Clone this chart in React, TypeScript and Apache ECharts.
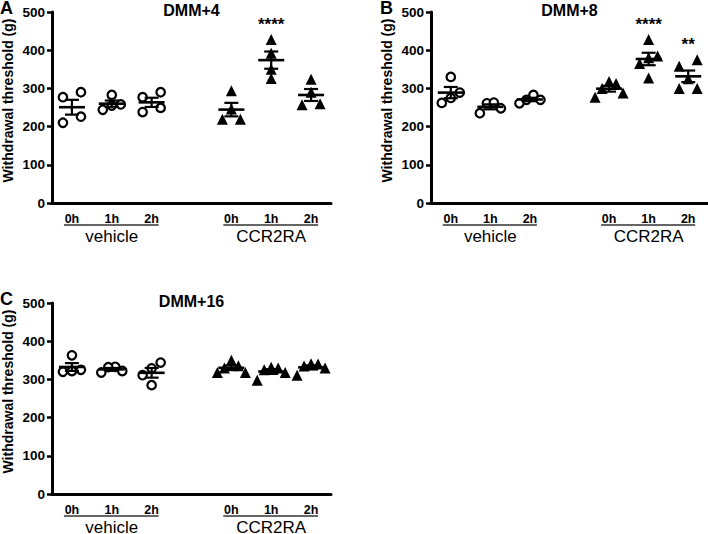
import React, { useEffect, useRef } from 'react';
import * as echarts from 'echarts';

// x categories (slot 3 is the gap between the two treatment groups)
const timeLabels = ['0h', '1h', '2h', '', '0h', '1h', '2h'];
const groupNames = ['vehicle', 'CCR2RA'];
const panelTitles = ['DMM+4', 'DMM+8', 'DMM+16'];
const panelLetters = ['A', 'B', 'C'];
const yAxisTitle = 'Withdrawal threshold (g)';
const yMin = 0;
const yMax = 500;
const yStep = 100;

// Panel A – DMM+4 (withdrawal threshold, g)
const aVehicle0h = [210, 277, 290, 226];
const aVehicle1h = [244, 283, 255, 258];
const aVehicle2h = [238, 277, 290, 249];
const aCcr0h = [219, 294, 219, 246];
const aCcr1h = [326, 428, 392, 350];
const aCcr2h = [257, 324, 260, 290];
const aSig = ['', '', '', '', '****', ''];

// Panel B – DMM+8
const bVehicle0h = [262, 330, 289, 275];
const bVehicle1h = [235, 261, 263, 248];
const bVehicle2h = [261, 283, 270, 270];
const bCcr0h = [277, 318, 313, 288, 300];
const bCcr1h = [327, 428, 385, 380, 365];
const bCcr2h = [300, 375, 358, 300, 325];
const bSig = ['', '', '', '', '****', '**'];

// Panel C – DMM+16
const cVehicle0h = [320, 363, 325, 322];
const cVehicle1h = [318, 333, 332, 322];
const cVehicle2h = [285, 329, 344, 311];
const cCcr0h = [318, 350, 318, 336, 330];
const cCcr1h = [298, 325, 332, 318, 330];
const cCcr2h = [311, 341, 340, 335, 330];
const cSig = ['', '', '', '', '', ''];

const panels = [
  { vehicle: [aVehicle0h, aVehicle1h, aVehicle2h], ccr: [aCcr0h, aCcr1h, aCcr2h], sig: aSig },
  { vehicle: [bVehicle0h, bVehicle1h, bVehicle2h], ccr: [bCcr0h, bCcr1h, bCcr2h], sig: bSig },
  { vehicle: [cVehicle0h, cVehicle1h, cVehicle2h], ccr: [cCcr0h, cCcr1h, cCcr2h], sig: cSig },
];

// layout
const grids = [
  { left: 51, top: 12, width: 280, height: 191 },
  { left: 431, top: 12, width: 277, height: 191 },
  { left: 51, top: 303, width: 280, height: 191 },
];
const vehicleSlots = [0, 1, 2];
const ccrSlots = [4, 5, 6];
const FONT = '"Liberation Sans", Arial, Helvetica, sans-serif';

function meanSem(v: number[]) {
  const n = v.length;
  const m = v.reduce((a, b) => a + b, 0) / n;
  const sd = Math.sqrt(v.reduce((a, b) => a + (b - m) * (b - m), 0) / (n - 1));
  return [m, sd / Math.sqrt(n)];
}

// simple deterministic scatter-dot spread: points whose symbols would overlap
// vertically are laid side by side
function spread(vals: number[], pxPerUnit: number, sym: number, step: number, minHalf: number) {
  const order = vals.map((_, i) => i).sort((a, b) => vals[a] - vals[b]);
  const offs = new Array(vals.length).fill(0);
  let row: number[] = [];
  const flush = () => {
    const n = row.length;
    if (n > 1) {
      const w = Math.max(minHalf, (step * (n - 1)) / 2);
      // slot order: ascending for short rows, alternating outer/inner for long rows
      const slotOrder: number[] = [];
      if (n <= 3) {
        for (let i = 0; i < n; i++) slotOrder.push(i);
      } else {
        let lo = 0;
        let hi = n - 1;
        while (lo <= hi) {
          slotOrder.push(lo++);
          if (lo <= hi) slotOrder.push(hi--);
        }
      }
      row.forEach((idx, k) => {
        offs[idx] = -w + (2 * w * slotOrder[k]) / (n - 1);
      });
    }
    row = [];
  };
  order.forEach((idx) => {
    if (row.length && (vals[idx] - vals[row[row.length - 1]]) * pxPerUnit >= sym) flush();
    row.push(idx);
  });
  flush();
  return offs;
}

export default function App() {
  const ref = useRef<HTMLDivElement>(null);
  useEffect(() => {
    if (!ref.current) return;
    const chart = echarts.init(ref.current, null, { renderer: 'svg' });

    const gridOpt: any[] = [];
    const xAxes: any[] = [];
    const yAxes: any[] = [];
    const series: any[] = [];

    panels.forEach((p, g) => {
      const gr = grids[g];
      const pxPerUnit = gr.height / (yMax - yMin);
      gridOpt.push({ ...gr, containLabel: false });
      xAxes.push({
        type: 'category',
        gridIndex: g,
        data: timeLabels,
        boundaryGap: true,
        axisLine: { lineStyle: { color: '#000', width: 3 } },
        axisTick: { alignWithLabel: true, length: 5, lineStyle: { color: '#000', width: 2.5 } },
        axisLabel: { color: '#000', fontWeight: 'bold', fontSize: 12.5, fontFamily: FONT, margin: 9, interval: 0 },
        splitLine: { show: false },
      });
      yAxes.push({
        type: 'value',
        gridIndex: g,
        min: yMin,
        max: yMax,
        interval: yStep,
        name: yAxisTitle,
        nameLocation: 'middle',
        nameGap: 37,
        nameTextStyle: { color: '#000', fontWeight: 'bold', fontSize: 14, fontFamily: FONT, padding: [0, 0, 0, 14] },
        axisLine: { show: true, lineStyle: { color: '#000', width: 3 } },
        axisTick: { show: true, length: 5, lineStyle: { color: '#000', width: 2.5 } },
        axisLabel: { color: '#000', fontWeight: 'bold', fontSize: 13.5, fontFamily: FONT, margin: 7 },
        splitLine: { show: false },
      });

      const vehData: any[] = [];
      p.vehicle.forEach((vals, k) => {
        const offs = spread(vals, pxPerUnit, 9, 7, 9);
        vals.forEach((v, i) => vehData.push({ value: [vehicleSlots[k], v], symbolOffset: [offs[i], 0] }));
      });
      const ccrData: any[] = [];
      p.ccr.forEach((vals, k) => {
        const offs = spread(vals, pxPerUnit, 9, 7, 9);
        vals.forEach((v, i) => ccrData.push({ value: [ccrSlots[k], v], symbolOffset: [offs[i], 0] }));
      });
      series.push({
        type: 'scatter',
        xAxisIndex: g,
        yAxisIndex: g,
        symbol: 'circle',
        symbolSize: 8.5,
        itemStyle: { color: '#fff', borderColor: '#000', borderWidth: 2.2, opacity: 1 },
        emphasis: { disabled: true },
        data: vehData,
        z: 2,
      });
      series.push({
        type: 'scatter',
        xAxisIndex: g,
        yAxisIndex: g,
        symbol: 'triangle',
        symbolSize: 11,
        itemStyle: { color: '#000', opacity: 1 },
        emphasis: { disabled: true },
        data: ccrData,
        z: 2,
      });

      const allGroups = [...p.vehicle, ...p.ccr];
      const allSlots = [...vehicleSlots, ...ccrSlots];
      const summary = allGroups.map((vals, k) => {
        const [m, s] = meanSem(vals);
        return [allSlots[k], m, s];
      });
      series.push({
        type: 'custom',
        xAxisIndex: g,
        yAxisIndex: g,
        encode: { x: 0, y: 1 },
        data: summary,
        z: 3,
        renderItem: (_params: any, api: any) => {
          const x = api.value(0);
          const m = api.value(1);
          const s = api.value(2);
          const c = api.coord([x, m]);
          const hi = api.coord([x, m + s]);
          const lo = api.coord([x, m - s]);
          const thin = { stroke: '#000', lineWidth: 2.2 };
          return {
            type: 'group',
            children: [
              { type: 'line', shape: { x1: c[0] - 13, y1: c[1], x2: c[0] + 13, y2: c[1] }, style: { stroke: '#000', lineWidth: 2.6 } },
              { type: 'line', shape: { x1: c[0], y1: hi[1], x2: c[0], y2: lo[1] }, style: thin },
              { type: 'line', shape: { x1: c[0] - 7, y1: hi[1], x2: c[0] + 7, y2: hi[1] }, style: thin },
              { type: 'line', shape: { x1: c[0] - 7, y1: lo[1], x2: c[0] + 7, y2: lo[1] }, style: thin },
            ],
          };
        },
      });

      const sigData: any[] = [];
      allGroups.forEach((vals, k) => {
        if (p.sig[k]) {
          sigData.push({ value: [allSlots[k], Math.max(...vals)], label: { formatter: p.sig[k] } });
        }
      });
      if (sigData.length) {
        series.push({
          type: 'scatter',
          xAxisIndex: g,
          yAxisIndex: g,
          symbolSize: 1,
          itemStyle: { color: 'rgba(0,0,0,0)', opacity: 1 },
          emphasis: { disabled: true },
          silent: true,
          label: {
            show: true,
            position: 'top',
            distance: 6,
            color: '#000',
            opacity: 1,
            fontWeight: 'bold',
            fontSize: 17,
            fontFamily: FONT,
          },
          data: sigData,
          z: 4,
        });
      }
    });

    chart.setOption({
      animation: false,
      backgroundColor: '#fff',
      grid: gridOpt,
      xAxis: xAxes,
      yAxis: yAxes,
      series,
    });

    // annotations placed through the axes' own scales
    const graphic: any[] = [];
    panels.forEach((_p, g) => {
      const gr = grids[g];
      const px = (i: number) => chart.convertToPixel({ xAxisIndex: g } as any, i) as unknown as number;
      const y0 = chart.convertToPixel({ yAxisIndex: g } as any, yMin) as unknown as number;
      const yTop = chart.convertToPixel({ yAxisIndex: g } as any, yMax) as unknown as number;
      [vehicleSlots, ccrSlots].forEach((slots, k) => {
        const xa = px(slots[0]);
        const xb = px(slots[slots.length - 1]);
        graphic.push({
          type: 'line',
          shape: { x1: xa - 8, y1: y0 + 22, x2: xb + 7, y2: y0 + 22 },
          style: { stroke: '#333', lineWidth: 1.3 },
        });
        graphic.push({
          type: 'text',
          x: (xa + xb) / 2,
          y: y0 + 33.5,
          style: {
            text: groupNames[k],
            fill: '#000',
            font: `17px ${FONT}`,
            textAlign: 'center',
            textVerticalAlign: 'middle',
          },
        });
      });
      graphic.push({
        type: 'text',
        x: px(3),
        y: yTop - 1.5,
        style: {
          text: panelTitles[g],
          fill: '#000',
          font: `bold 16px ${FONT}`,
          textAlign: 'center',
          textVerticalAlign: 'middle',
        },
      });
      graphic.push({
        type: 'text',
        x: gr.left - 51,
        y: yTop - 4,
        style: {
          text: panelLetters[g],
          fill: '#000',
          font: `bold 18px ${FONT}`,
          textAlign: 'left',
          textVerticalAlign: 'middle',
        },
      });
    });
    chart.setOption({ graphic });

    return () => chart.dispose();
  }, []);
  return <div ref={ref} style={{ width: 708, height: 534, position: 'absolute', left: 0, top: 0 }} />;
}
